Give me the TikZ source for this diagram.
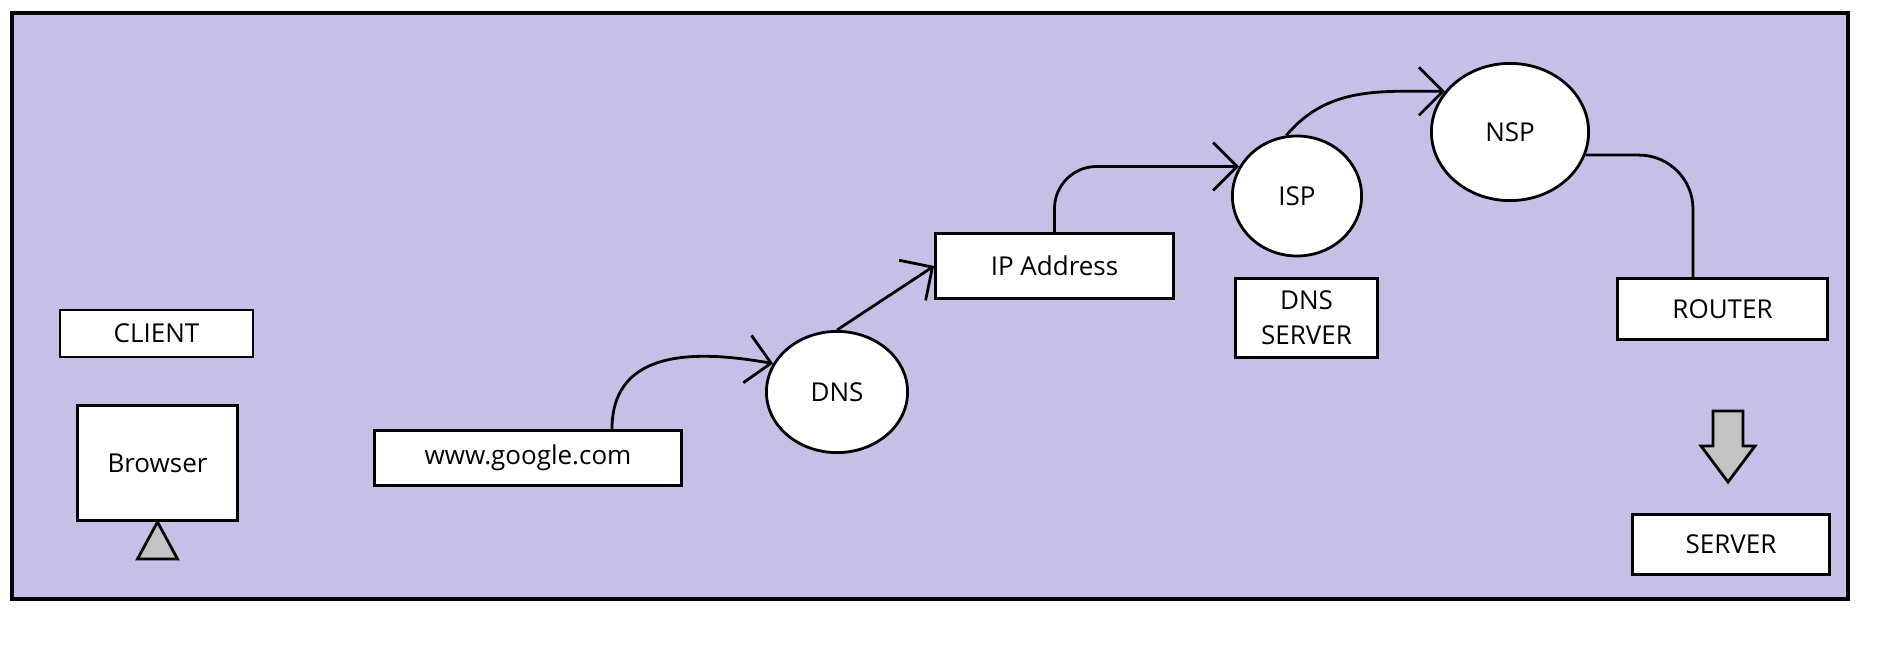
\documentclass[tikz,border=0pt]{standalone}
\usepackage{fontspec}
\setmainfont{Open Sans}
\usepackage{tikz}
\usepackage{xcolor}
\usetikzlibrary{positioning}
\usetikzlibrary{shapes.geometric,arrows.meta}
\definecolor{lavender}{RGB}{200,191,231}
\definecolor{paintgray}{RGB}{195,195,195}

\begin{document}
\begin{tikzpicture}[x=0.5pt, y=-0.5pt,
    box/.style={draw, fill=white, line width=1.4pt, inner sep=0pt, font=\fontsize{13}{17.5}\selectfont},
    bubble/.style={ellipse, draw, fill=white, line width=1.4pt, inner sep=0pt, font=\fontsize{13}{17.5}\selectfont},
    link/.style={line width=1.4pt, -{Straight Barb[length=12pt, width=24pt]}}]
    \useasboundingbox (0,0) rectangle (1879,648);
    \draw[line width=1.8pt, fill=lavender] (12,13) rectangle (1848,599);

    \node[box, minimum width=96.5pt, minimum height=23.5pt] (client) at (156.5,333.5) {CLIENT};
    \node[box, minimum width=80pt, minimum height=57.6pt] (browser) at (157.5,463) {Browser};
    \node[box, minimum width=153.6pt, minimum height=27.6pt] (google) at (528,458) {www.google.com};
    \node[bubble, minimum width=70.6pt, minimum height=60.6pt] (dns) at (837,392) {DNS};
    \node[box, minimum width=119pt, minimum height=32.6pt] (ip) at (1054.5,266) {IP Address};
    \node[bubble, minimum width=64.6pt, minimum height=60pt] (isp) at (1297,196) {ISP};
    \node[box, minimum width=71pt, minimum height=39.6pt, align=center] (dnsserver) at (1306.5,318) {DNS\\SERVER};
    \node[bubble, minimum width=78.6pt, minimum height=68.6pt] (nsp) at (1510,132) {NSP};
    \node[box, minimum width=105pt, minimum height=30.6pt] (router) at (1722.5,309) {ROUTER};
    \node[box, minimum width=98.6pt, minimum height=30pt] (server) at (1731,544.5) {SERVER};

    % stand under the browser
    \draw[line width=1.4pt, fill=paintgray] (browser.south) -- ++(-20,37) -- ++(40,0) -- cycle;

    \draw[link] ([xshift=42pt]google.north) .. controls +(0,-84) and +(-69,-12) .. (dns.156);
    \draw[link] (dns.north) -- (ip.west);
    \draw[link, rounded corners=21pt] (ip.north) |- (isp.153);
    \draw[link] (isp.100) to[out=50, in=180] (nsp.148);
    \draw[line width=1.4pt, rounded corners=27pt] (nsp.-17) -| ([xshift=-14.75pt]router.north);

    % block arrow down to the server
    \draw[line width=1.4pt, fill=paintgray] (1713,411) -- (1743,411) -- (1743,446) -- (1755,446)
        -- (1728,482) -- (1701,446) -- (1713,446) -- cycle;
\end{tikzpicture}
\end{document}
